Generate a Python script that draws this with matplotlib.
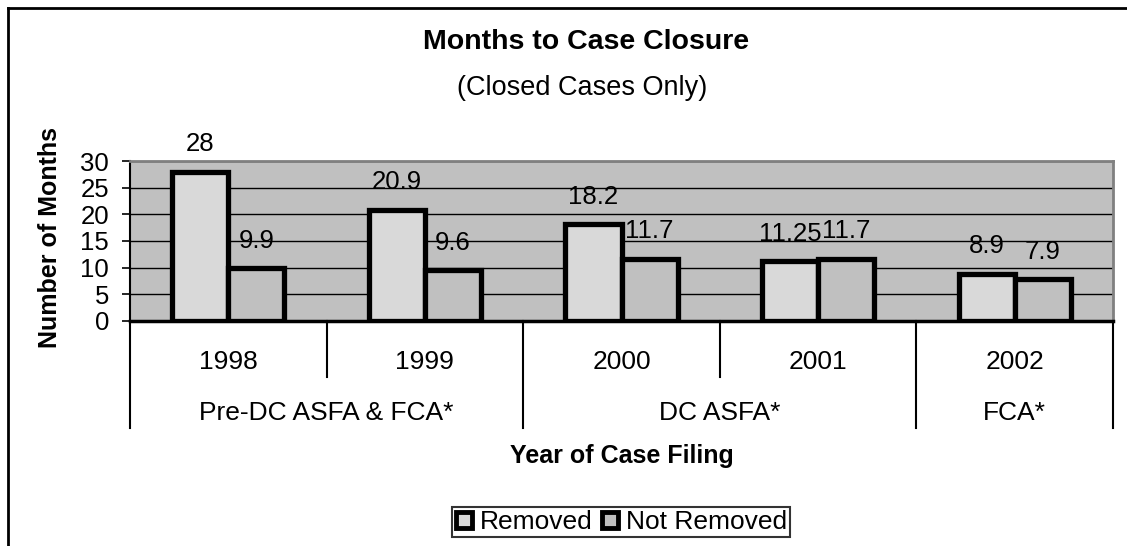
import matplotlib.pyplot as plt
from matplotlib.lines import Line2D
import matplotlib.transforms as mtransforms

plt.rcParams['font.family'] = ['Liberation Sans', 'DejaVu Sans']

years = ['1998', '1999', '2000', '2001', '2002']
groups = ['Pre-DC ASFA & FCA*', 'DC ASFA*', 'FCA*']
group_spans = [(0, 2), (2, 4), (4, 5)]
removed = [28, 20.9, 18.2, 11.25, 8.9]
not_removed = [9.9, 9.6, 11.7, 11.7, 7.9]
removed_labels = ['28', '20.9', '18.2', '11.25', '8.9']
not_removed_labels = ['9.9', '9.6', '11.7', '11.7', '7.9']

W, H = 1127, 546
fig = plt.figure(figsize=(W / 100, H / 100), dpi=100)

# outer chart frame (only top and left edges fall inside the picture)
fig.add_artist(Line2D([8 / W, 8 / W], [0, 1 - 8 / H], color='black', lw=2))
fig.add_artist(Line2D([8 / W, 1.0], [1 - 8 / H, 1 - 8 / H], color='black', lw=2))

left, right, top, bottom = 130, 1113, 161, 321
ax = fig.add_axes([left / W, 1 - bottom / H, (right - left) / W, (bottom - top) / H])
ax.set_facecolor('#C0C0C0')
ax.set_xlim(0, 5)
ax.set_ylim(0, 30)

w = 0.285
xs = [i + 0.5 for i in range(len(years))]
ax.bar([x - w / 2 for x in xs], removed, width=w, color='#D9D9D9',
       edgecolor='black', linewidth=3.8, zorder=3)
ax.bar([x + w / 2 for x in xs], not_removed, width=w, color='#C0C0C0',
       edgecolor='black', linewidth=3.8, zorder=3)

fs = 19
for x, v, s in zip(xs, removed, removed_labels):
    ax.annotate(s, (x - w / 2, v), xytext=(0, 11), textcoords='offset points',
                ha='center', va='bottom', fontsize=18.5, zorder=4,
                annotation_clip=False)
for x, v, s in zip(xs, not_removed, not_removed_labels):
    ax.annotate(s, (x + w / 2, v), xytext=(0, 11), textcoords='offset points',
                ha='center', va='bottom', fontsize=18.5, zorder=4,
                annotation_clip=False)

ax.set_yticks(range(0, 31, 5))
ax.yaxis.grid(True, color='black', linewidth=1)
ax.set_axisbelow(True)
ax.tick_params(axis='y', length=6, width=1.2, direction='out', pad=9, labelsize=18.5)
ax.set_xticks([])

ax.spines['top'].set_color('#808080')
ax.spines['right'].set_color('#808080')
ax.spines['top'].set_linewidth(2)
ax.spines['right'].set_linewidth(2)
ax.spines['left'].set_linewidth(1.5)
ax.spines['bottom'].set_linewidth(2.5)
ax.spines['bottom'].set_zorder(5)

# multi-level category axis
trans = mtransforms.blended_transform_factory(ax.transData, ax.transAxes)
short_end = (bottom - 377) / (bottom - top)
long_end = (bottom - 428) / (bottom - top)
for x in [0, 2, 4, 5]:
    ax.add_line(Line2D([x, x], [0, long_end], transform=trans, color='black',
                       lw=1.5, clip_on=False))
for x in [1, 3]:
    ax.add_line(Line2D([x, x], [0, short_end], transform=trans, color='black',
                       lw=1.5, clip_on=False))
for x, y in zip(xs, years):
    ax.text(x, (bottom - 362) / (bottom - top), y, transform=trans,
            ha='center', va='center', fontsize=fs)
for (a, b), g in zip(group_spans, groups):
    ax.text((a + b) / 2, (bottom - 413) / (bottom - top), g, transform=trans,
            ha='center', va='center', fontsize=fs)

fig.text(622 / W, 1 - 456 / H, 'Year of Case Filing', ha='center', va='center',
         fontsize=18, fontweight='bold')
fig.text(50 / W, 1 - 237 / H, 'Number of Months', rotation=90, ha='center',
         va='center', fontsize=18, fontweight='bold')
fig.text(586 / W, 1 - 42 / H, 'Months to Case Closure', ha='center', va='center',
         fontsize=20.5, fontweight='bold')
fig.text(582 / W, 1 - 88 / H, '(Closed Cases Only)', ha='center', va='center',
         fontsize=19.5)

handles = [
    Line2D([], [], linestyle='none', marker='s', markersize=11,
           markerfacecolor='#D9D9D9', markeredgecolor='black', markeredgewidth=3.5),
    Line2D([], [], linestyle='none', marker='s', markersize=11,
           markerfacecolor='#C0C0C0', markeredgecolor='black', markeredgewidth=3.5),
]
leg = fig.legend(handles, ['Removed', 'Not Removed'], loc='center',
                 bbox_to_anchor=(621 / W, 1 - 522 / H), ncol=2, fontsize=fs,
                 frameon=True, fancybox=False, handlelength=0.7,
                 handletextpad=0.25, columnspacing=0.3, borderpad=0.1,
                 borderaxespad=0)
leg.get_frame().set_edgecolor('black')
leg.get_frame().set_linewidth(1.5)

fig.savefig('out.png', dpi=100)
